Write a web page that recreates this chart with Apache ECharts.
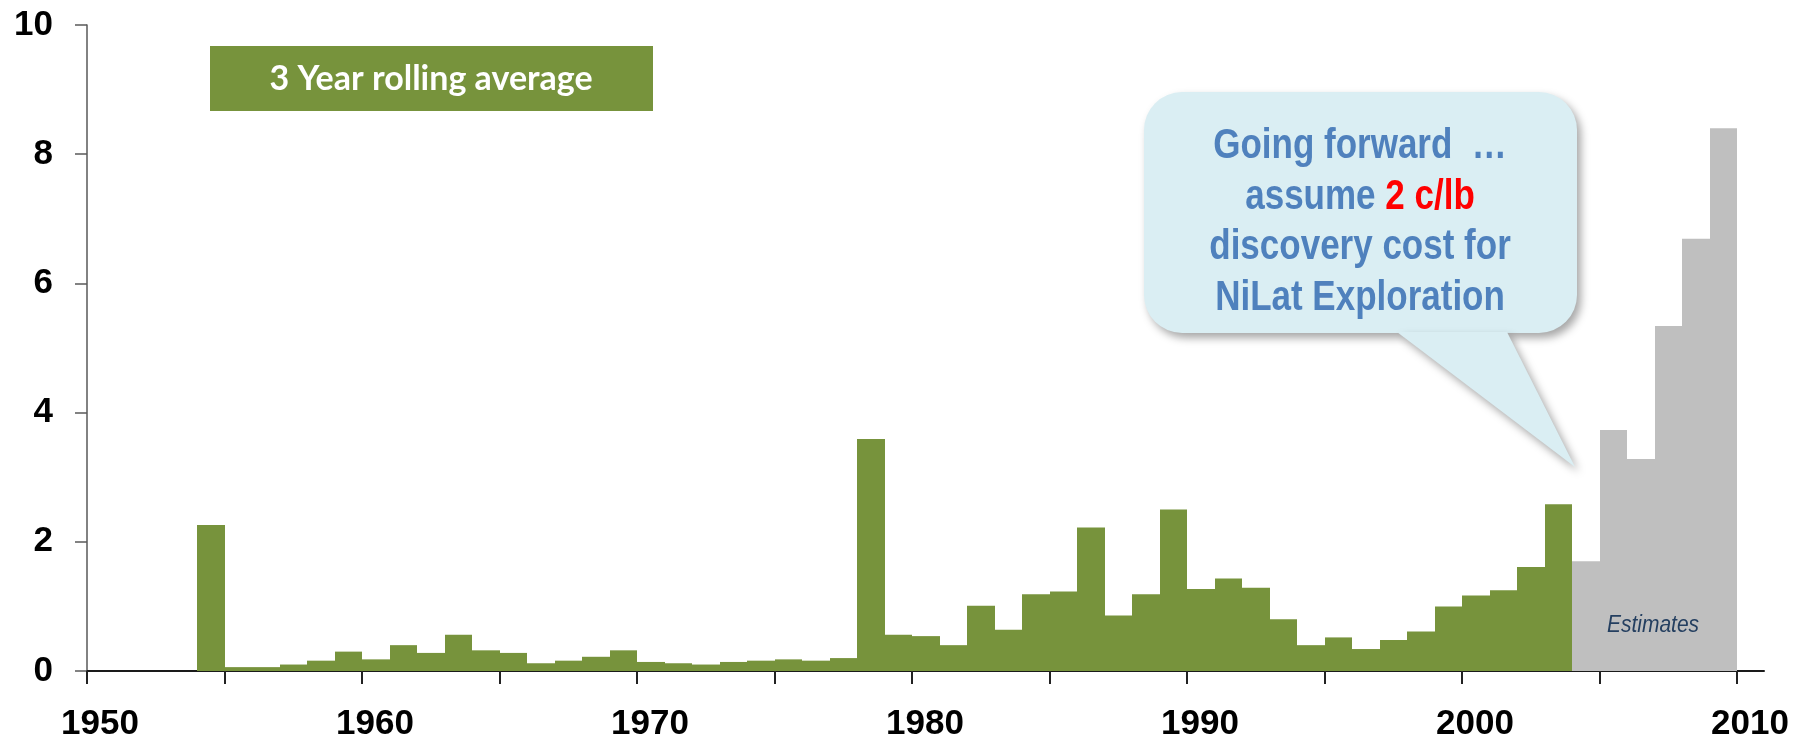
<!DOCTYPE html>
<html>
<head>
<meta charset="utf-8">
<script src="https://cdn.jsdelivr.net/npm/echarts@6/dist/echarts.min.js"></script>
<style>
  html, body { margin: 0; padding: 0; background: #fff; }
  #chart { width: 1811px; height: 742px; }
</style>
</head>
<body>
<div id="chart"></div>
<script>
// reported years (3 year rolling average) and the estimated years
const actualYears = [1954, 1955, 1956, 1957, 1958, 1959,
  1960, 1961, 1962, 1963, 1964, 1965, 1966, 1967, 1968, 1969,
  1970, 1971, 1972, 1973, 1974, 1975, 1976, 1977, 1978, 1979,
  1980, 1981, 1982, 1983, 1984, 1985, 1986, 1987, 1988, 1989,
  1990, 1991, 1992, 1993, 1994, 1995, 1996, 1997, 1998, 1999,
  2000, 2001, 2002, 2003];
const actualValues = [2.26, 0.06, 0.06, 0.10, 0.16, 0.30,
  0.18, 0.40, 0.28, 0.56, 0.32, 0.28, 0.12, 0.16, 0.22, 0.32,
  0.14, 0.12, 0.10, 0.14, 0.16, 0.18, 0.16, 0.20, 3.59, 0.56,
  0.54, 0.40, 1.01, 0.64, 1.19, 1.23, 2.22, 0.86, 1.19, 2.50,
  1.27, 1.43, 1.29, 0.80, 0.40, 0.52, 0.34, 0.48, 0.61, 1.00,
  1.17, 1.25, 1.61, 2.58];
const estimateYears = [2004, 2005, 2006, 2007, 2008, 2009];
const estimateValues = [1.70, 3.73, 3.28, 5.34, 6.69, 8.40];

const axisFont = "'Liberation Sans', Arial, sans-serif";

// each bar spans one full year: [year, year + 1]
function renderYearBar(params, api) {
    const year = api.value(0);
    const top = api.coord([year, api.value(1)]);
    const bottom = api.coord([year + 1, 0]);
    const x0 = Math.round(top[0]);
    const x1 = Math.round(bottom[0]);
    return {
        type: 'rect',
        shape: { x: x0, y: top[1], width: x1 - x0, height: bottom[1] - top[1] },
        style: { fill: api.visual('color') }
    };
}

const chart = echarts.init(document.getElementById('chart'));

const bubbleShadow = {
    shadowColor: 'rgba(0,0,0,0.35)',
    shadowBlur: 8,
    shadowOffsetX: 4,
    shadowOffsetY: 5
};

const option = {
    animation: false,
    // grid 0 carries the data (1950-2010), grid 1 only the longer x axis line
    grid: [
        { left: 87, right: 74, top: 25, bottom: 71 },
        { left: 87, right: 47, top: 25, bottom: 71 }
    ],
    xAxis: [
        {
            type: 'value',
            gridIndex: 0,
            min: 1950,
            max: 2010,
            interval: 5,
            splitLine: { show: false },
            axisLine: { show: true, onZero: false, lineStyle: { color: '#1a1a1a', width: 2 } },
            axisTick: { show: true, inside: false, length: 13, lineStyle: { color: '#222', width: 2 } },
            axisLabel: {
                formatter: (v) => (v % 10 === 0 ? String(v) : ''),
                margin: 36,
                padding: [0, 0, 0, 26],
                color: '#000',
                fontFamily: axisFont,
                fontWeight: 'bold',
                fontSize: 35
            }
        },
        {
            type: 'value',
            gridIndex: 1,
            min: 1950,
            max: 2011,
            splitLine: { show: false },
            axisLine: { show: true, onZero: false, lineStyle: { color: '#1a1a1a', width: 2 } },
            axisTick: { show: false },
            axisLabel: { show: false }
        }
    ],
    yAxis: [
        {
            type: 'value',
            gridIndex: 0,
            min: 0,
            max: 10,
            interval: 2,
            splitLine: { show: false },
            axisLine: { show: true, lineStyle: { color: '#595959', width: 1.5 } },
            axisTick: { show: true, length: 12, lineStyle: { color: '#595959', width: 1.5 } },
            axisLabel: {
                margin: 34,
                color: '#000',
                fontFamily: axisFont,
                fontWeight: 'bold',
                fontSize: 35
            }
        },
        {
            type: 'value',
            gridIndex: 1,
            min: 0,
            max: 10,
            show: false
        }
    ],
    series: [
        {
            name: '3 Year rolling average',
            type: 'custom',
            renderItem: renderYearBar,
            itemStyle: { color: '#77933C' },
            encode: { x: 0, y: 1 },
            data: actualYears.map((y, i) => [y, actualValues[i]]),
            z: 2
        },
        {
            name: 'Estimates',
            type: 'custom',
            renderItem: renderYearBar,
            itemStyle: { color: '#BFBFBF' },
            encode: { x: 0, y: 1 },
            data: estimateYears.map((y, i) => [y, estimateValues[i]]),
            z: 2
        }
    ],
    graphic: [
        {
            type: 'rect',
            shape: { x: 210, y: 46, width: 443, height: 65 },
            style: { fill: '#77933C' },
            z: 10
        },
        {
            type: 'text',
            x: 431, y: 79,
            style: {
                text: '3 Year rolling average',
                fill: '#fff',
                font: "bold 34px Lato, 'Open Sans', sans-serif",
                align: 'center',
                verticalAlign: 'middle'
            },
            z: 11
        },
        // speech bubble pointing at the estimates
        {
            type: 'rect',
            shape: { x: 1144, y: 92, width: 433, height: 241, r: 38 },
            style: Object.assign({ fill: '#DAEEF3' }, bubbleShadow),
            z: 10
        },
        {
            type: 'polygon',
            shape: { points: [[1397, 332], [1507, 332], [1575, 467]] },
            style: Object.assign({ fill: '#DAEEF3' }, bubbleShadow),
            z: 10
        },
        {
            type: 'text',
            x: 1360, y: 222,
            scaleY: 1.24,
            style: {
                text: '{b|Going forward  \u2026}\n{b|assume }{r|2 c/lb}\n{b|discovery cost for}\n{b|NiLat Exploration}',
                align: 'center',
                verticalAlign: 'middle',
                rich: {
                    b: { fill: '#4F81BD', font: 'bold 35px ' + axisFont, lineHeight: 41 },
                    r: { fill: '#FF0000', font: 'bold 35px ' + axisFont, lineHeight: 41 }
                }
            },
            z: 11
        },
        {
            type: 'text',
            x: 1653, y: 625,
            scaleY: 1.18,
            style: {
                text: 'Estimates',
                fill: '#243F60',
                font: 'italic 21px ' + axisFont,
                align: 'center',
                verticalAlign: 'middle'
            },
            z: 11
        }
    ]
};

option && chart.setOption(option);
window.onresize = () => {
    chart.resize();
};
</script>
</body>
</html>
